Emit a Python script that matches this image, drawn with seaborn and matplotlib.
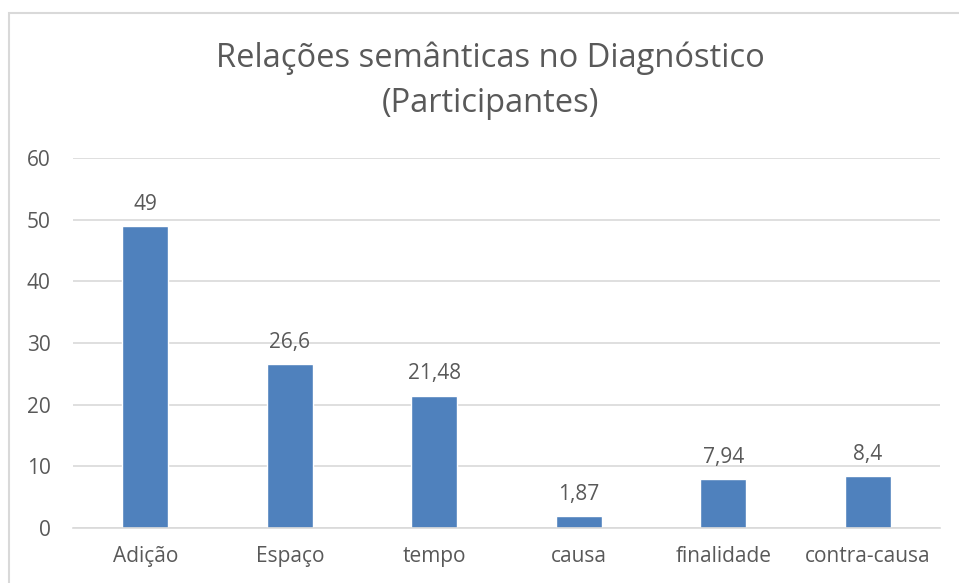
import matplotlib
matplotlib.use("Agg")
import matplotlib.pyplot as plt
import seaborn as sns
from matplotlib.patches import Rectangle

categorias = ["Adição", "Espaço", "tempo", "causa", "finalidade", "contra-causa"]
valores = [49, 26.6, 21.48, 1.87, 7.94, 8.4]
rotulos = ["49", "26,6", "21,48", "1,87", "7,94", "8,4"]
yticks = [0, 10, 20, 30, 40, 50, 60]

sns.set_style("white")
plt.rcParams['font.family'] = ['Open Sans', 'DejaVu Sans']

texto = "#595959"
grade = "#D9D9D9"

fig = plt.figure(figsize=(9.59, 5.83), dpi=100)
ax = fig.add_axes([73 / 959, 1 - 528 / 583, (940 - 73) / 959, (528 - 158) / 583])

sns.barplot(x=categorias, y=valores, color="#4F81BD", saturation=1, width=0.32, ax=ax)
ax.bar_label(ax.containers[0], labels=rotulos, padding=8, fontsize=15, color=texto)

ax.set_ylim(0, 60)
ax.set_yticks(yticks)
ax.set_xlim(-0.5, len(categorias) - 0.5)
ax.yaxis.grid(True, color=grade, linewidth=1.2)
ax.set_axisbelow(True)
for s in ["top", "right", "left"]:
    ax.spines[s].set_visible(False)
ax.spines["bottom"].set_color(grade)
ax.spines["bottom"].set_linewidth(1.2)
ax.tick_params(axis="y", length=0, pad=16, labelsize=15, labelcolor=texto)
ax.tick_params(axis="x", length=0, pad=13, labelsize=15, labelcolor=texto)
ax.set_xlabel("")
ax.set_ylabel("")

fig.text(490 / 959, 1 - 58 / 583, "Relações semânticas no Diagnóstico",
         ha="center", va="center", fontsize=23.5, color=texto)
fig.text(490 / 959, 1 - 103 / 583, "(Participantes)",
         ha="center", va="center", fontsize=23.5, color=texto)

fig.patches.append(Rectangle((9 / 959, -0.05), 1.2, 1 - 13 / 583 + 0.05,
                             transform=fig.transFigure, fill=False,
                             edgecolor="#D9D9D9", linewidth=1.5))

fig.savefig("out.png", dpi=100)
